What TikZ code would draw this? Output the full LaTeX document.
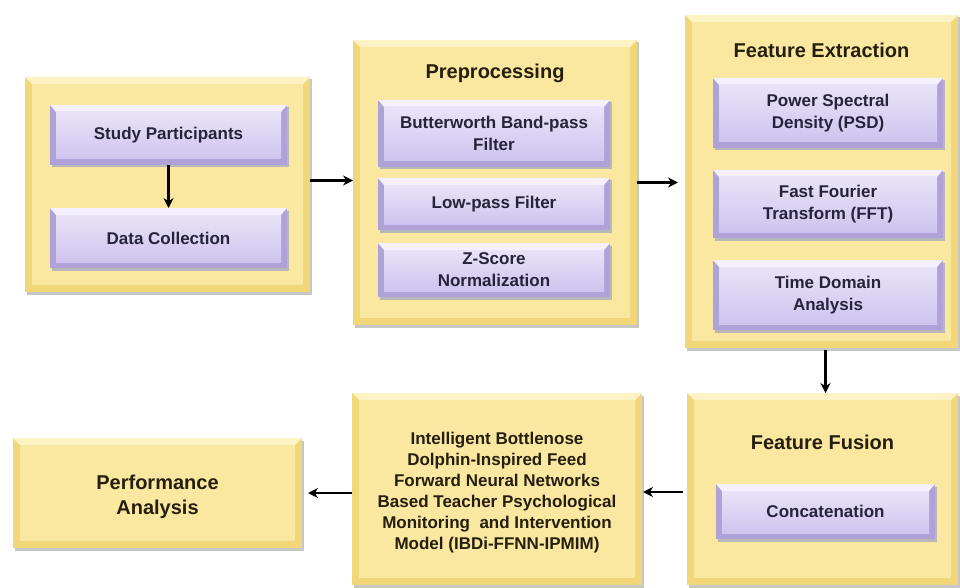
\documentclass[tikz,border=0pt]{standalone}
\usepackage{fontspec}
\setmainfont{Liberation Sans}
\usetikzlibrary{arrows.meta,calc}
\definecolor{yedge}{RGB}{242,214,122}
\definecolor{ybase}{RGB}{250,231,160}
\definecolor{ylight}{RGB}{253,243,196}
\definecolor{pedge}{RGB}{176,162,216}
\definecolor{plight}{RGB}{244,240,253}
\definecolor{pmid}{RGB}{206,196,238}
\definecolor{tdark}{RGB}{38,30,14}
\definecolor{pdark}{RGB}{38,36,60}
\tikzset{
  ybox/.style={fill=yedge, inner sep=0pt, outer sep=0pt,
    preaction={fill=black!22, transform canvas={xshift=2pt,yshift=-2.5pt}},
    path picture={
      \fill[ylight] (path picture bounding box.north west) -- (path picture bounding box.north east)
        -- ([shift={(-7pt,-7pt)}]path picture bounding box.north east)
        -- ([shift={(7pt,-7pt)}]path picture bounding box.north west) -- cycle;
      \fill[ybase] ([shift={(7pt,-7pt)}]path picture bounding box.north west) rectangle ([shift={(-7pt,7pt)}]path picture bounding box.south east);}},
  pbox/.style={fill=pedge, inner sep=0pt, outer sep=0pt, align=center, text=pdark,
    font=\bfseries\fontsize{17}{22}\selectfont,
    preaction={fill=black!28, transform canvas={xshift=1.5pt,yshift=-2.5pt}},
    path picture={
      \fill[plight] (path picture bounding box.north west) -- (path picture bounding box.north east)
        -- ([shift={(-6pt,-7pt)}]path picture bounding box.north east)
        -- ([shift={(6pt,-7pt)}]path picture bounding box.north west) -- cycle;
      \shade[top color=plight!70!pmid, bottom color=pmid] ([shift={(6pt,-7pt)}]path picture bounding box.north west) rectangle ([shift={(-6pt,6pt)}]path picture bounding box.south east);}},
  ttl/.style={font=\bfseries\fontsize{20}{24}\selectfont, text=tdark, inner sep=0pt},
  ytxt/.style={font=\bfseries\fontsize{17}{21}\selectfont, text=tdark, align=center, inner sep=0pt},
  arr/.style={line width=2.8pt, -{Stealth[length=10pt,width=10pt]}},
}
\begin{document}
\begin{tikzpicture}[x=1pt,y=-1pt]
\useasboundingbox (0,0) rectangle (960,588);
% big yellow boxes
\node[ybox, minimum width=285pt, minimum height=215pt] (b1) at (167.5,184.5) {};
\node[ybox, minimum width=284pt, minimum height=285pt] (b2) at (495,182.5) {};
\node[ybox, minimum width=273pt, minimum height=333pt] (b3) at (821.5,181.5) {};
\node[ybox, minimum width=271pt, minimum height=192pt] (ff) at (822.5,489) {};
\node[ybox, minimum width=290pt, minimum height=192pt] (ib) at (497,489) {};
\node[ybox, minimum width=289pt, minimum height=110pt] (pa) at (157.5,493) {};
% titles
\node[ttl] (t2) at (495,73) {Preprocessing};
\node[ttl] (t3) at (821.5,50) {Feature Extraction};
\node[ttl] (t4) at (822.5,442) {Feature Fusion};
\node[ytxt] (ibt) at (497,492.5) {Intelligent Bottlenose\\Dolphin-Inspired Feed\\Forward Neural Networks\\Based Teacher Psychological\\Monitoring\ \ and Intervention\\Model (IBDi-FFNN-IPMIM)};
\node[ytxt, font=\bfseries\fontsize{20}{25}\selectfont] (pat) at (157.5,497) {Performance\\Analysis};
% inner purple boxes
\node[pbox, minimum width=237pt, minimum height=60pt] (sp) at (168.5,135) {Study Participants};
\node[pbox, minimum width=237pt, minimum height=60pt] (dc) at (168.5,238) {Data Collection};
\node[pbox, minimum width=232pt, minimum height=67pt] (bw) at (494,133.5) {Butterworth Band-pass\\Filter};
\node[pbox, minimum width=232pt, minimum height=52pt] (lp) at (494,204) {Low-pass Filter};
\node[pbox, minimum width=232pt, minimum height=54pt] (zs) at (494,270) {Z-Score\\Normalization};
\node[pbox, minimum width=230pt, minimum height=70pt] (psd) at (828,113) {Power Spectral\\Density (PSD)};
\node[pbox, minimum width=230pt, minimum height=68pt] (fft) at (828,204) {Fast Fourier\\Transform (FFT)};
\node[pbox, minimum width=230pt, minimum height=70pt] (tda) at (828,295) {Time Domain\\Analysis};
\node[pbox, minimum width=219pt, minimum height=55pt] (cc) at (825.5,511.5) {Concatenation};
% arrows
\draw[arr] (sp.south) -- (dc.north);
\draw[arr] ($(b1.east)+(0,-4)$) -- ($(b1.east -| b2.west)+(0,-4)$);
\draw[arr, shorten >=7pt] (b2.east) -- (b2.east -| b3.west);
\draw[arr, shorten <=2pt] ($(b3.south)+(4,0)$) -- ($(b3.south |- ff.north)+(4,0)$);
\draw[arr, shorten <=4pt, shorten >=1pt] ($(ff.west)+(0,3)$) -- ($(ff.west -| ib.east)+(0,3)$);
\draw[arr, shorten >=6pt] (ib.west |- pa.east) -- (pa.east);
\end{tikzpicture}
\end{document}
